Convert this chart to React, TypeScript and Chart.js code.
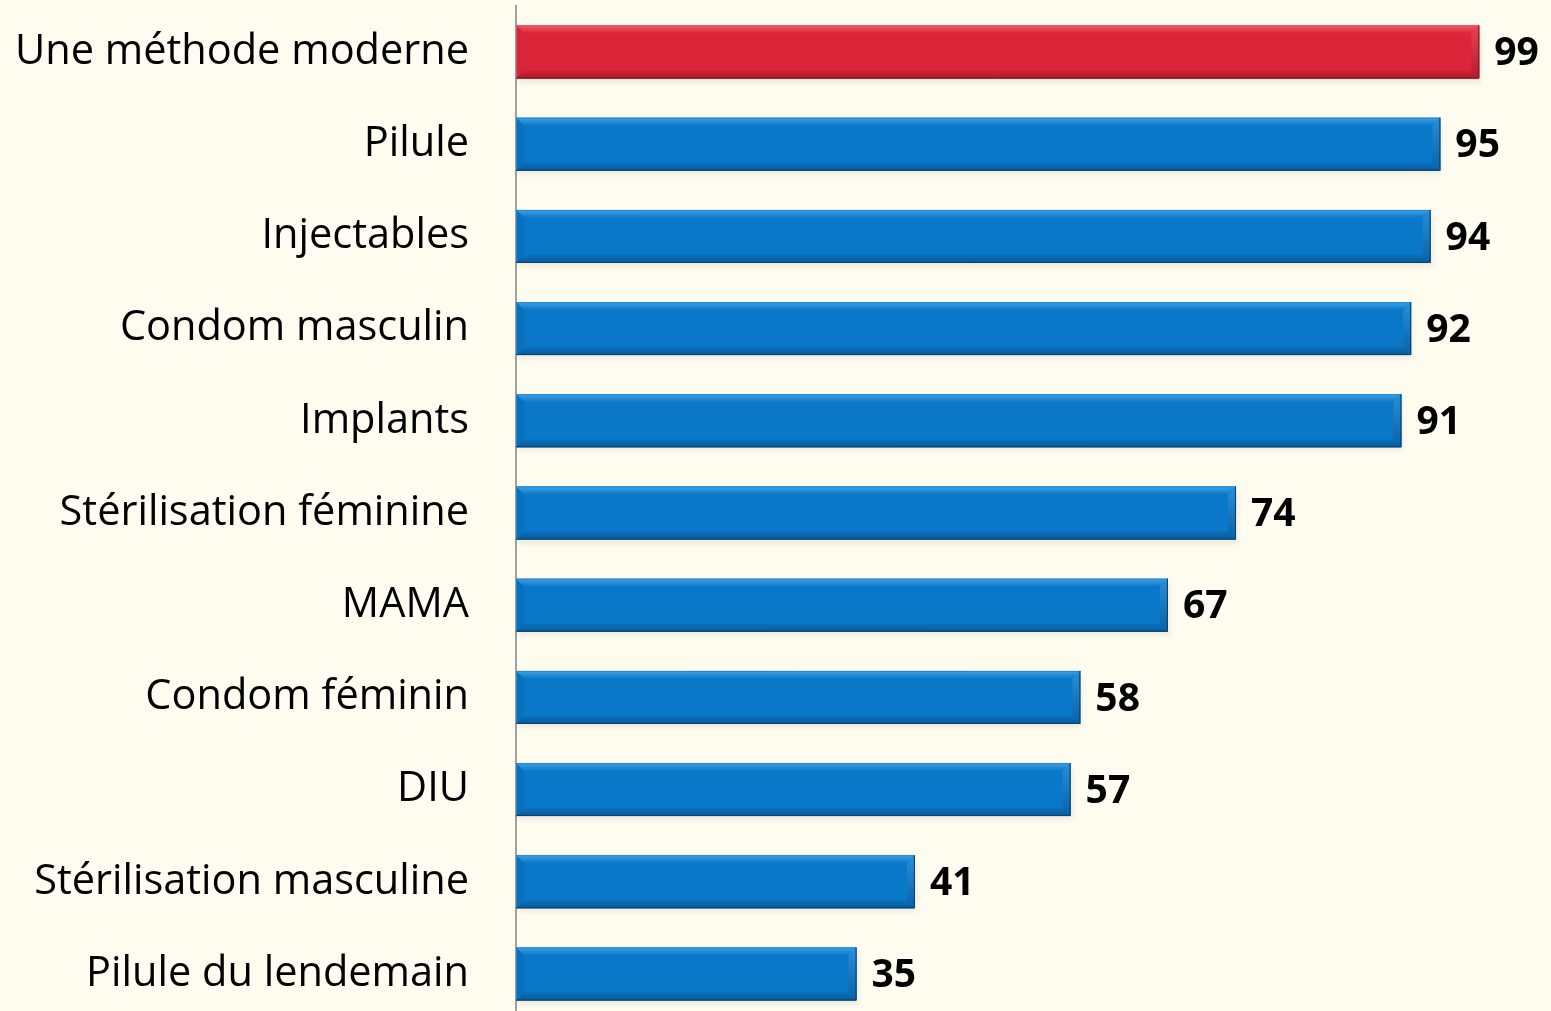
import React, { useEffect, useRef } from "react";
import { Chart, registerables } from "chart.js";

Chart.register(...registerables);

const categories = [
  "Une méthode moderne",
  "Pilule",
  "Injectables",
  "Condom masculin",
  "Implants",
  "Stérilisation féminine",
  "MAMA",
  "Condom féminin",
  "DIU",
  "Stérilisation masculine",
  "Pilule du lendemain",
];
const values = [99, 95, 94, 92, 91, 74, 67, 58, 57, 41, 35];
const highlightIndex = 0;

const BG = "#FEFBEF";
const RED = {
  main: "#DC2538",
  top: "#F0596A",
  bottomA: "#D32234",
  bottomB: "#A91B2A",
  left: "#D5273A",
  rightA: "#E64455",
  rightB: "#B11E2D",
  edgeLight: "#E84A5B",
  edgeDark: "#7E1520",
};
const BLUE = {
  main: "#0A78C8",
  top: "#3FA2E6",
  bottomA: "#0A70BD",
  bottomB: "#075A98",
  left: "#0B70BC",
  rightA: "#2A8ED8",
  rightB: "#0962A6",
  edgeLight: "#2088D4",
  edgeDark: "#0A3F6B",
};

const bevelPlugin = {
  id: "bevel",
  beforeDatasetsDraw(chart: any) {
    const ctx = chart.ctx;
    const meta = chart.getDatasetMeta(0);
    ctx.save();
    meta.data.forEach((bar: any) => {
      const { x, y, base, height } = bar.getProps(["x", "y", "base", "height"], true);
      const l = Math.min(base, x), r = Math.max(base, x);
      const t = y - height / 2;
      ctx.shadowColor = "rgba(0,0,0,0.35)";
      ctx.shadowBlur = 5;
      ctx.shadowOffsetX = 2;
      ctx.shadowOffsetY = 4;
      ctx.fillStyle = "rgba(0,0,0,0.2)";
      ctx.fillRect(l, t, r - l, height);
    });
    ctx.restore();
  },
  afterDatasetsDraw(chart: any) {
    const ctx = chart.ctx;
    const meta = chart.getDatasetMeta(0);
    ctx.save();
    const poly = (pts: number[][], color: any) => {
      ctx.beginPath();
      ctx.moveTo(pts[0][0], pts[0][1]);
      for (let k = 1; k < pts.length; k++) ctx.lineTo(pts[k][0], pts[k][1]);
      ctx.closePath();
      ctx.fillStyle = color;
      ctx.fill();
    };
    const vgrad = (y0: number, y1: number, c0: string, c1: string) => {
      const g = ctx.createLinearGradient(0, y0, 0, y1);
      g.addColorStop(0, c0);
      g.addColorStop(1, c1);
      return g;
    };
    meta.data.forEach((bar: any, i: number) => {
      const pal = i === highlightIndex ? RED : BLUE;
      const { x, y, base, height } = bar.getProps(["x", "y", "base", "height"], true);
      const l = Math.min(base, x), r = Math.max(base, x);
      const t = y - height / 2, b = y + height / 2;
      const d = 8;
      poly([[l, t], [r, t], [r - d, t + d], [l + d, t + d]], vgrad(t, t + d, pal.top, pal.main));
      poly([[l, b], [r, b], [r - d, b - d], [l + d, b - d]], vgrad(b - d, b, pal.bottomA, pal.bottomB));
      poly([[l, t], [l + d, t + d], [l + d, b - d], [l, b]], pal.left);
      poly([[r, t], [r - d, t + d], [r - d, b - d], [r, b]], vgrad(t, b, pal.rightA, pal.rightB));
      ctx.lineWidth = 1;
      ctx.strokeStyle = pal.edgeLight;
      ctx.beginPath();
      ctx.moveTo(l + 0.5, b);
      ctx.lineTo(l + 0.5, t + 0.5);
      ctx.lineTo(r, t + 0.5);
      ctx.stroke();
      ctx.strokeStyle = pal.edgeDark;
      ctx.beginPath();
      ctx.moveTo(r - 0.5, t);
      ctx.lineTo(r - 0.5, b - 0.5);
      ctx.lineTo(l, b - 0.5);
      ctx.stroke();
      // value label
      ctx.fillStyle = "#000";
      ctx.font = "bold 39px 'Open Sans'";
      ctx.textAlign = "left";
      ctx.textBaseline = "middle";
      ctx.fillText(String(values[i]), r + 15, y + 2);
    });
    ctx.restore();
  },
};

export default function App() {
  const ref = useRef<HTMLCanvasElement | null>(null);
  useEffect(() => {
    if (!ref.current) return;
    const chart = new Chart(ref.current, {
      type: "bar",
      data: {
        labels: categories,
        datasets: [
          {
            data: values,
            backgroundColor: values.map((_, i) => (i === highlightIndex ? RED.main : BLUE.main)),
            borderWidth: 0,
            barPercentage: 0.575,
            categoryPercentage: 1,
          },
        ],
      },
      options: {
        indexAxis: "y",
        responsive: false,
        animation: false,
        layout: { padding: { top: 0, right: 62, bottom: 0, left: 0 } },
        plugins: { legend: { display: false }, tooltip: { enabled: false } },
        scales: {
          x: { display: false, min: 0, max: 100 },
          y: {
            afterFit: (scale: any) => {
              scale.width = 516;
            },
            grid: {
              display: true,
              color: "rgba(0,0,0,0)",
              drawOnChartArea: false,
              drawTicks: true,
              tickLength: 47,
            },
            border: { display: true, color: "#A0A0A0", width: 2 },
            ticks: {
              color: "#000",
              padding: 0,
              font: { family: "'Open Sans'", size: 41.5 },
            },
          },
        },
      },
      plugins: [bevelPlugin],
    });
    return () => chart.destroy();
  }, []);
  return (
    <div
      style={{
        position: "absolute",
        left: 0,
        top: 0,
        width: 1551,
        height: 1011,
        overflow: "hidden",
        background: BG,
      }}
    >
      <canvas
        ref={ref}
        width={1551}
        height={1064}
        style={{ width: 1551, height: 1064, display: "block", marginTop: -19 }}
      />
    </div>
  );
}
